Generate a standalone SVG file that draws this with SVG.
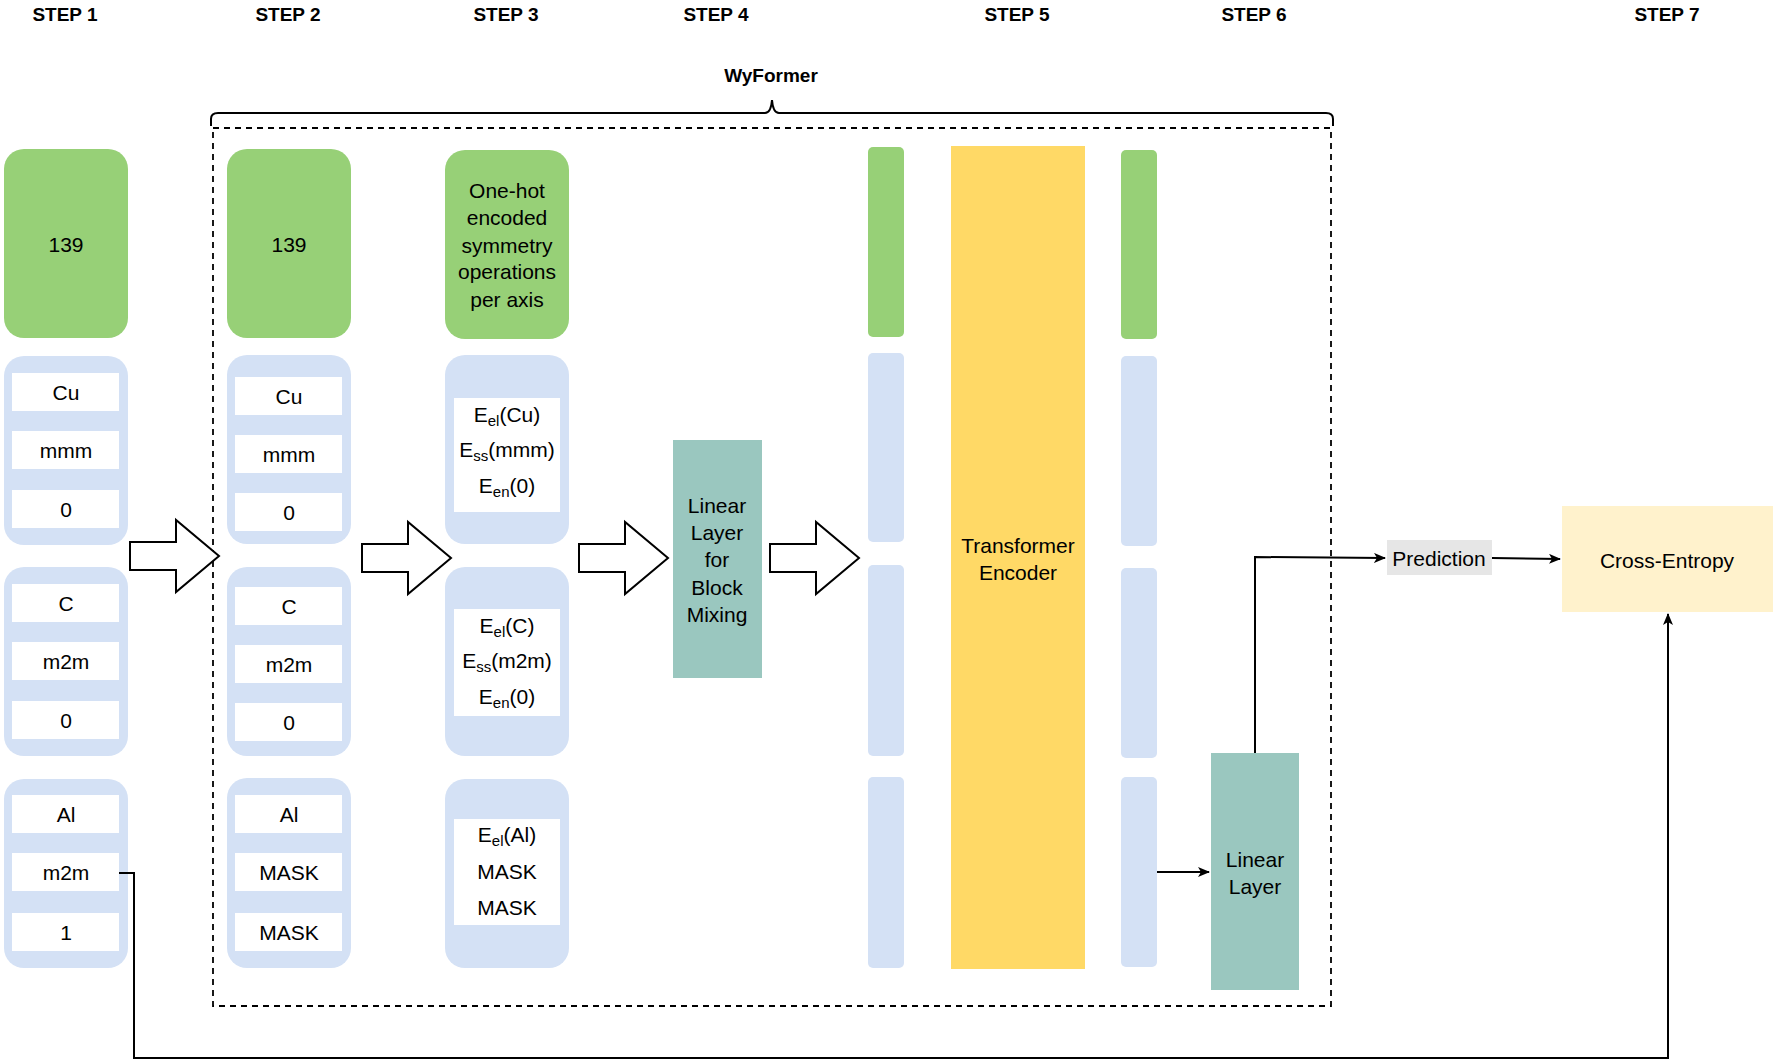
<svg xmlns="http://www.w3.org/2000/svg" width="1779" height="1063" viewBox="0 0 1779 1063">
<style>
text{font-family:"Liberation Sans",Arial,sans-serif;font-size:21px;fill:#000;text-anchor:middle;dominant-baseline:central}
.step{font-weight:bold;font-size:19px}
.g{fill:#97D077}
.b{fill:#D4E1F5}
.w{fill:#fff}
.sub{font-size:15px}
.ln{fill:none;stroke:#000;stroke-width:2}
.ba{fill:#fff;stroke:#000;stroke-width:2}
</style>
<defs>
<marker id="ah" markerWidth="12" markerHeight="10" refX="11" refY="5" orient="auto" markerUnits="userSpaceOnUse">
<path d="M0,0 L12,5 L0,10 L3,5 Z" fill="#000"/>
</marker>
</defs>
<g id="labels">
<text class="step" x="65" y="14">STEP 1</text>
<text class="step" x="288" y="14">STEP 2</text>
<text class="step" x="506" y="14">STEP 3</text>
<text class="step" x="716" y="14">STEP 4</text>
<text class="step" x="1017" y="14">STEP 5</text>
<text class="step" x="1254" y="14">STEP 6</text>
<text class="step" x="1667" y="14">STEP 7</text>
<text class="step" x="771" y="75">WyFormer</text>
</g>
<g id="wyformer">
<path class="ln" d="M211,126 V119 Q211,113 218,113 H765 Q771,113 772,100 Q773,113 779,113 H1326 Q1333,113 1333,119 V126"/>
<rect x="213" y="128" width="1118" height="878" fill="none" stroke="#000" stroke-width="1.8" stroke-dasharray="6,5"/>
</g>
<g id="step1">
<rect class="g" x="4" y="149" width="124" height="189" rx="20"/>
<text x="66" y="244">139</text>
<rect class="b" x="4" y="356" width="124" height="189" rx="20"/>
<rect class="w" x="12" y="373" width="107" height="38"/><text x="66" y="392">Cu</text>
<rect class="w" x="12" y="431" width="107" height="38"/><text x="66" y="450">mmm</text>
<rect class="w" x="12" y="490" width="107" height="38"/><text x="66" y="509">0</text>
<rect class="b" x="4" y="567" width="124" height="189" rx="20"/>
<rect class="w" x="12" y="584" width="107" height="38"/><text x="66" y="603">C</text>
<rect class="w" x="12" y="642" width="107" height="38"/><text x="66" y="661">m2m</text>
<rect class="w" x="12" y="701" width="107" height="38"/><text x="66" y="720">0</text>
<rect class="b" x="4" y="779" width="124" height="189" rx="20"/>
<rect class="w" x="12" y="795" width="107" height="38"/><text x="66" y="814">Al</text>
<rect class="w" x="12" y="853" width="107" height="38"/><text x="66" y="872">m2m</text>
<rect class="w" x="12" y="913" width="107" height="38"/><text x="66" y="932">1</text>
</g>
<g id="step2">
<rect class="g" x="227" y="149" width="124" height="189" rx="20"/>
<text x="289" y="244">139</text>
<rect class="b" x="227" y="355" width="124" height="189" rx="20"/>
<rect class="w" x="235" y="377" width="107" height="38"/><text x="289" y="396">Cu</text>
<rect class="w" x="235" y="435" width="107" height="38"/><text x="289" y="454">mmm</text>
<rect class="w" x="235" y="493" width="107" height="38"/><text x="289" y="512">0</text>
<rect class="b" x="227" y="567" width="124" height="189" rx="20"/>
<rect class="w" x="235" y="587" width="107" height="38"/><text x="289" y="606">C</text>
<rect class="w" x="235" y="645" width="107" height="38"/><text x="289" y="664">m2m</text>
<rect class="w" x="235" y="703" width="107" height="38"/><text x="289" y="722">0</text>
<rect class="b" x="227" y="778" width="124" height="190" rx="20"/>
<rect class="w" x="235" y="795" width="107" height="38"/><text x="289" y="814">Al</text>
<rect class="w" x="235" y="853" width="107" height="38"/><text x="289" y="872">MASK</text>
<rect class="w" x="235" y="913" width="107" height="38"/><text x="289" y="932">MASK</text>
</g>
<g id="step3">
<rect class="g" x="445" y="150" width="124" height="189" rx="20"/>
<text x="507" y="190">One-hot</text>
<text x="507" y="217">encoded</text>
<text x="507" y="245">symmetry</text>
<text x="507" y="271">operations</text>
<text x="507" y="299">per axis</text>
<rect class="b" x="445" y="355" width="124" height="189" rx="20"/>
<rect class="w" x="454" y="398" width="106" height="114"/>
<text x="507" y="414">E<tspan class="sub" dy="6">el</tspan><tspan dy="-6">(Cu)</tspan></text>
<text x="507" y="449">E<tspan class="sub" dy="6">ss</tspan><tspan dy="-6">(mmm)</tspan></text>
<text x="507" y="485">E<tspan class="sub" dy="6">en</tspan><tspan dy="-6">(0)</tspan></text>
<rect class="b" x="445" y="567" width="124" height="189" rx="20"/>
<rect class="w" x="454" y="609" width="106" height="107"/>
<text x="507" y="625">E<tspan class="sub" dy="6">el</tspan><tspan dy="-6">(C)</tspan></text>
<text x="507" y="660">E<tspan class="sub" dy="6">ss</tspan><tspan dy="-6">(m2m)</tspan></text>
<text x="507" y="696">E<tspan class="sub" dy="6">en</tspan><tspan dy="-6">(0)</tspan></text>
<rect class="b" x="445" y="779" width="124" height="189" rx="20"/>
<rect class="w" x="454" y="819" width="106" height="106"/>
<text x="507" y="834">E<tspan class="sub" dy="6">el</tspan><tspan dy="-6">(Al)</tspan></text>
<text x="507" y="871">MASK</text>
<text x="507" y="907">MASK</text>
</g>
<g id="block-arrows">
<path class="ba" d="M130,542 H176 V520 L219,556 L176,592 V570 H130 Z"/>
<path class="ba" d="M362,544 H408 V522 L451,558 L408,594 V572 H362 Z"/>
<path class="ba" d="M579,544 H625 V522 L668,558 L625,594 V572 H579 Z"/>
<path class="ba" d="M770,544 H816 V522 L859,558 L816,594 V572 H770 Z"/>
</g>
<g id="step4">
<rect x="673" y="440" width="89" height="238" fill="#9AC7BF"/>
<text x="717" y="505">Linear</text>
<text x="717" y="532">Layer</text>
<text x="717" y="559">for</text>
<text x="717" y="587">Block</text>
<text x="717" y="614">Mixing</text>
</g>
<g id="step5">
<rect class="g" x="868" y="147" width="36" height="190" rx="5"/>
<rect class="b" x="868" y="353" width="36" height="189" rx="5"/>
<rect class="b" x="868" y="565" width="36" height="191" rx="5"/>
<rect class="b" x="868" y="777" width="36" height="191" rx="5"/>
<rect x="951" y="146" width="134" height="823" fill="#FFD966"/>
<text x="1018" y="545">Transformer</text>
<text x="1018" y="572">Encoder</text>
</g>
<g id="step6">
<rect class="g" x="1121" y="150" width="36" height="189" rx="5"/>
<rect class="b" x="1121" y="356" width="36" height="190" rx="5"/>
<rect class="b" x="1121" y="568" width="36" height="190" rx="5"/>
<rect class="b" x="1121" y="777" width="36" height="190" rx="5"/>
<rect x="1211" y="753" width="88" height="237" fill="#9AC7BF"/>
<text x="1255" y="859">Linear</text>
<text x="1255" y="886">Layer</text>
</g>
<g id="prediction">
<rect x="1387" y="540" width="105" height="35" fill="#E6E6E6"/>
<text x="1439" y="558">Prediction</text>
</g>
<g id="cross-entropy">
<rect x="1562" y="506" width="211" height="106" fill="#FFF2CC"/>
<text x="1667" y="560">Cross-Entropy</text>
</g>
<g id="connectors">
<path class="ln" stroke-width="1.6" d="M1157,872 H1209" marker-end="url(#ah)"/>
<path class="ln" stroke-width="1.6" d="M1255,753 V557 L1385,558" marker-end="url(#ah)"/>
<path class="ln" stroke-width="1.6" d="M1492,558 L1560,559" marker-end="url(#ah)"/>
<path class="ln" stroke-width="1.6" d="M119,873 H134 V1058 H1668 V614" marker-end="url(#ah)"/>
</g>
</svg>
